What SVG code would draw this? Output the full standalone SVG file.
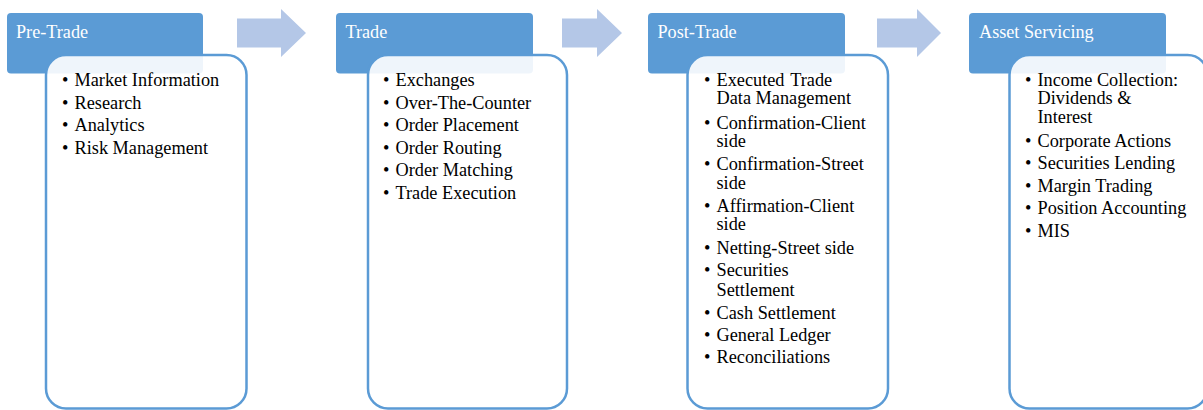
<svg xmlns="http://www.w3.org/2000/svg" width="1203" height="410" viewBox="0 0 1203 410" font-family="'Liberation Serif', 'Times New Roman', 'DejaVu Serif', serif">
  <style>
    .hdr { fill: #5b9bd5; }
    .body { fill: #ffffff; fill-opacity: 0.9; stroke: #5b9bd5; stroke-width: 2.5; }
    .arrow { fill: #b4c7e7; }
    .title { font-size: 18.2px; fill: #ffffff; }
    .item { font-size: 18.3px; fill: #000000; }
  </style>

  <!-- flow arrows between stages -->
  <g id="connectors">
    <polygon class="arrow" points="237,18.5 281,18.5 281,9 306,33 281,57 281,47.5 237,47.5"/>
    <polygon class="arrow" points="562,18.5 597,18.5 597,9 622,33 597,57 597,47.5 562,47.5"/>
    <polygon class="arrow" points="877,18.5 917,18.5 917,9 941,33 917,57 917,47.5 877,47.5"/>
  </g>

  <!-- Stage 1 -->
  <g id="pre-trade">
    <rect class="hdr" x="7" y="13" width="196" height="60.5" rx="4"/>
    <text class="title" x="16" y="38">Pre-Trade</text>
    <rect class="body" x="46" y="55" width="200.5" height="353.5" rx="20"/>
    <g class="item">
      <text x="62" y="86">•</text><text x="74.5" y="86">Market Information</text>
      <text x="62" y="108.5">•</text><text x="74.5" y="108.5">Research</text>
      <text x="62" y="131">•</text><text x="74.5" y="131">Analytics</text>
      <text x="62" y="153.5">•</text><text x="74.5" y="153.5">Risk Management</text>
    </g>
  </g>

  <!-- Stage 2 -->
  <g id="trade">
    <rect class="hdr" x="336" y="13" width="197" height="60.5" rx="4"/>
    <text class="title" x="345.5" y="38">Trade</text>
    <rect class="body" x="368" y="55" width="199" height="353.5" rx="20"/>
    <g class="item">
      <text x="383" y="86">•</text><text x="395.5" y="86">Exchanges</text>
      <text x="383" y="108.5">•</text><text x="395.5" y="108.5">Over-The-Counter</text>
      <text x="383" y="131">•</text><text x="395.5" y="131">Order Placement</text>
      <text x="383" y="153.5">•</text><text x="395.5" y="153.5">Order Routing</text>
      <text x="383" y="176">•</text><text x="395.5" y="176">Order Matching</text>
      <text x="383" y="198.5">•</text><text x="395.5" y="198.5">Trade Execution</text>
    </g>
  </g>

  <!-- Stage 3 -->
  <g id="post-trade">
    <rect class="hdr" x="648" y="13" width="197" height="60.5" rx="4"/>
    <text class="title" x="657.5" y="38">Post-Trade</text>
    <rect class="body" x="687.5" y="55" width="200.5" height="353.5" rx="20"/>
    <g class="item">
      <text x="704" y="86">•</text><text x="716.5" y="86" word-spacing="1.5">Executed Trade</text>
      <text x="716.5" y="104">Data Management</text>
      <text x="704" y="128.5">•</text><text x="716.5" y="128.5">Confirmation-Client</text>
      <text x="716.5" y="147">side</text>
      <text x="704" y="170">•</text><text x="716.5" y="170">Confirmation-Street</text>
      <text x="716.5" y="188.5">side</text>
      <text x="704" y="212">•</text><text x="716.5" y="212">Affirmation-Client</text>
      <text x="716.5" y="230">side</text>
      <text x="704" y="254">•</text><text x="716.5" y="254">Netting-Street side</text>
      <text x="704" y="276">•</text><text x="716.5" y="276">Securities</text>
      <text x="716.5" y="296">Settlement</text>
      <text x="704" y="318.5">•</text><text x="716.5" y="318.5">Cash Settlement</text>
      <text x="704" y="340.5">•</text><text x="716.5" y="340.5">General Ledger</text>
      <text x="704" y="362.5">•</text><text x="716.5" y="362.5">Reconciliations</text>
    </g>
  </g>

  <!-- Stage 4 -->
  <g id="asset-servicing">
    <rect class="hdr" x="969" y="13" width="197" height="60.5" rx="4"/>
    <text class="title" x="979" y="38">Asset Servicing</text>
    <rect class="body" x="1009.5" y="55" width="198" height="353.5" rx="20"/>
    <g class="item">
      <text x="1025" y="86">•</text><text x="1037.5" y="86">Income Collection:</text>
      <text x="1037.5" y="104">Dividends &amp;</text>
      <text x="1037.5" y="123">Interest</text>
      <text x="1025" y="146.5">•</text><text x="1037.5" y="146.5">Corporate Actions</text>
      <text x="1025" y="169">•</text><text x="1037.5" y="169">Securities Lending</text>
      <text x="1025" y="191.5">•</text><text x="1037.5" y="191.5">Margin Trading</text>
      <text x="1025" y="214">•</text><text x="1037.5" y="214">Position Accounting</text>
      <text x="1025" y="236.5">•</text><text x="1037.5" y="236.5">MIS</text>
    </g>
  </g>
</svg>
